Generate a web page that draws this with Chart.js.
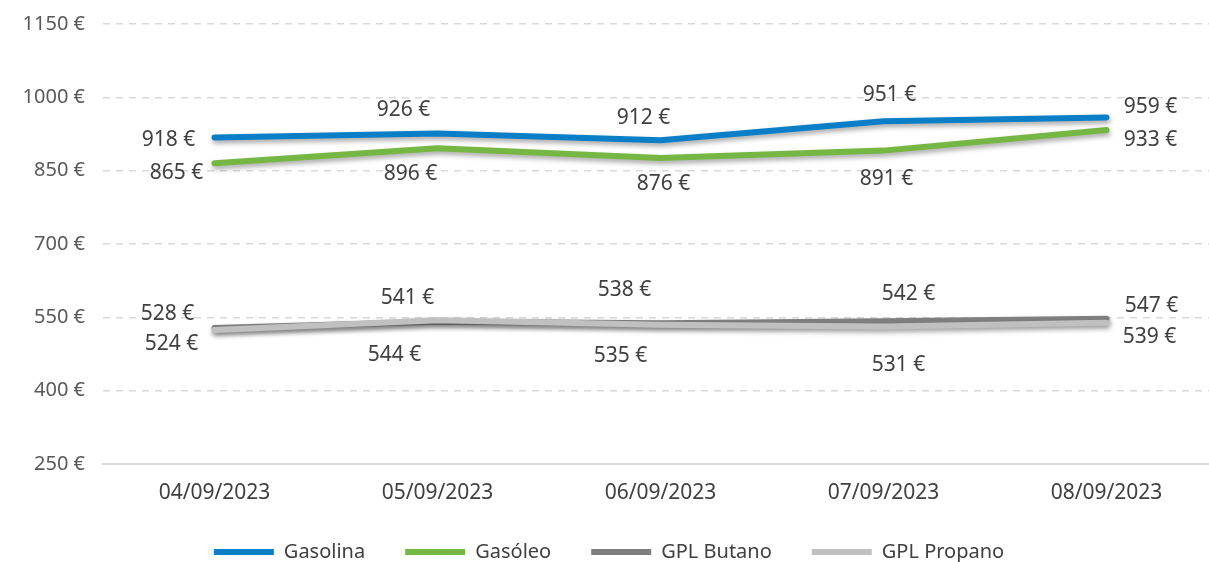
<!DOCTYPE html>
<html>
<head>
<meta charset="utf-8">
<script src="https://cdn.jsdelivr.net/npm/chart.js@4/dist/chart.umd.min.js"></script>
<style>
  html, body { margin: 0; padding: 0; background: #ffffff; overflow: hidden; }
  #wrap { width: 1209px; height: 562px; overflow: hidden; }
</style>
</head>
<body>
<div id="wrap"><canvas id="chart" width="1219" height="562"></canvas></div>
<script>
// dados
const categories = ["04/09/2023", "05/09/2023", "06/09/2023", "07/09/2023", "08/09/2023"];
const gasolina = [918, 926, 912, 951, 959];
const gasoleo = [865, 896, 876, 891, 933];
const gplButano = [528, 541, 538, 542, 547];
const gplPropano = [524, 544, 535, 531, 539];
const yTicks = [250, 400, 550, 700, 850, 1000, 1150];

const textColor = "#404040";
const fontFamily = "'Noto Sans', 'DejaVu Sans', sans-serif";

// deslocamento das etiquetas [dx, dy] relativo a cada ponto (colocação manual)
const labelOffsets = [
  [[-46, 3], [-34, -23], [-17, -22], [6, -26], [44, -10]],
  [[-38, 10], [-27, 26], [3, 26], [3, 28], [44, 10]],
  [[-47, -14], [-30, -24], [-36, -33], [25, -27], [45, -13]],
  [[-43, 14], [-43, 35], [-40, 31], [15, 38], [43, 14]],
];

// sombra nas linhas
const shadowPlugin = {
  id: "lineShadow",
  beforeDatasetDraw(chart) {
    const ctx = chart.ctx;
    ctx.save();
    ctx.shadowColor = "rgba(0, 0, 0, 0.35)";
    ctx.shadowBlur = 5;
    ctx.shadowOffsetX = 1;
    ctx.shadowOffsetY = 3;
  },
  afterDatasetDraw(chart) {
    chart.ctx.restore();
  },
};

// etiquetas de valores
const valueLabels = {
  id: "valueLabels",
  afterDatasetsDraw(chart) {
    const ctx = chart.ctx;
    ctx.save();
    ctx.font = "21px " + fontFamily;
    ctx.fillStyle = textColor;
    ctx.textAlign = "center";
    ctx.textBaseline = "middle";
    chart.data.datasets.forEach((ds, i) => {
      const meta = chart.getDatasetMeta(i);
      meta.data.forEach((pt, j) => {
        const off = labelOffsets[i][j];
        ctx.fillText(ds.data[j] + " €", pt.x + off[0], pt.y + off[1]);
      });
    });
    ctx.restore();
  },
};

function makeDataset(label, data, color, order) {
  return {
    label: label,
    data: data,
    borderColor: color,
    backgroundColor: color,
    borderWidth: 6,
    borderCapStyle: "round",
    borderJoinStyle: "round",
    pointRadius: 0,
    pointStyle: "line",
    tension: 0,
    order: order,
  };
}

const ctx = document.getElementById("chart").getContext("2d");
new Chart(ctx, {
  type: "line",
  data: {
    labels: categories,
    datasets: [
      makeDataset("Gasolina", gasolina, "#0a7ec6", 1),
      makeDataset("Gasóleo", gasoleo, "#76b743", 2),
      makeDataset("GPL Butano", gplButano, "#7f7f7f", 4),
      makeDataset("GPL Propano", gplPropano, "#c0c0c0", 3),
    ],
  },
  options: {
    responsive: false,
    animation: false,
    layout: {
      padding: { top: 24, right: 1, left: 0, bottom: -10 },
    },
    scales: {
      x: {
        offset: true,
        grid: { display: false },
        border: { display: true, color: "#d9d9d9", width: 2 },
        ticks: {
          color: textColor,
          font: { family: fontFamily, size: 21 },
          padding: 8,
          maxRotation: 0,
        },
        afterFit(scale) {
          scale.height = 38;
        },
      },
      y: {
        min: 250,
        max: 1150,
        afterBuildTicks(scale) {
          scale.ticks = yTicks.map((v) => ({ value: v }));
        },
        grid: {
          color: (c) => (c.tick && c.tick.value === 250 ? "rgba(0,0,0,0)" : "#d9d9d9"),
          lineWidth: 1.5,
          drawTicks: false,
        },
        border: { display: false, dash: [7, 6] },
        ticks: {
          color: "#595959",
          font: { family: fontFamily, size: 20 },
          padding: 18,
          callback: (v) => v + " €",
        },
        afterFit(scale) {
          scale.width = 103;
          scale.paddingTop = 0;
          scale.paddingBottom = 0;
        },
      },
    },
    plugins: {
      legend: {
        position: "bottom",
        labels: {
          usePointStyle: true,
          pointStyleWidth: 60,
          color: textColor,
          font: { family: fontFamily, size: 20 },
          padding: 40,
          sort: (a, b) => a.datasetIndex - b.datasetIndex,
        },
      },
      tooltip: { enabled: false },
    },
  },
  plugins: [shadowPlugin, valueLabels],
});
</script>
</body>
</html>
